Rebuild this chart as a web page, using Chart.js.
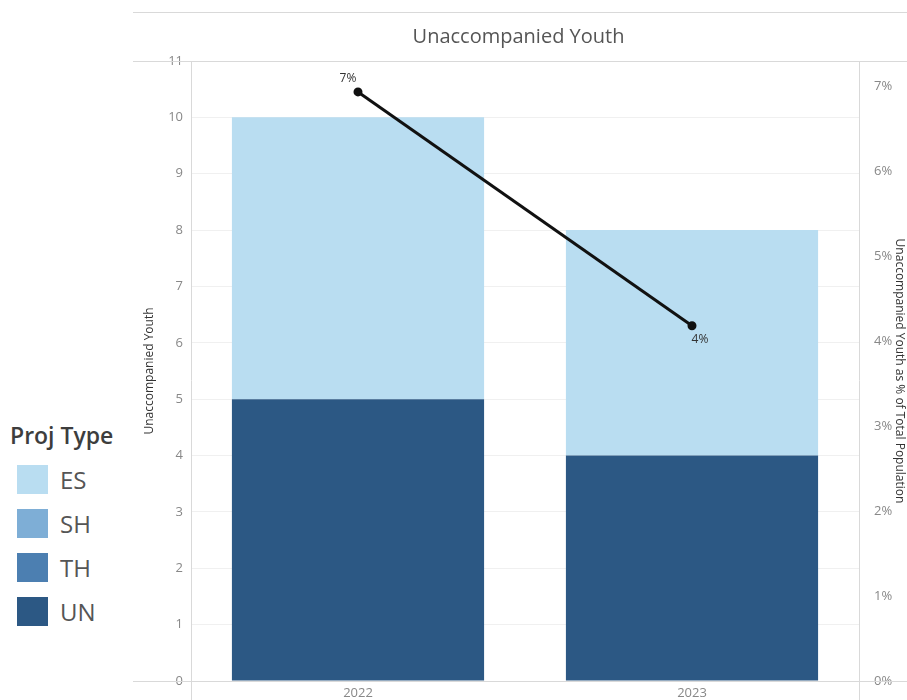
<!DOCTYPE html>
<html>
<head>
<meta charset="utf-8">
<script src="https://cdn.jsdelivr.net/npm/chart.js@4/dist/chart.umd.min.js"></script>
<style>
  body { margin: 0; background: #fff; font-family: 'Open Sans', sans-serif; }
  #wrap { position: absolute; left: 130px; top: 0; width: 777px; height: 700px; }
  #legend { position: absolute; left: 10px; top: 420px; }
  #legend .ttl { font-size: 23px; font-weight: 600; color: #3d3d3d; margin-bottom: 7px; line-height: 30px; }
  #legend .item { display: flex; align-items: center; height: 44px; margin-left: 7px; }
  #legend .sw { width: 31px; height: 29px; margin-right: 12px; }
  #legend .lbl { font-size: 24px; color: #555; }
</style>
</head>
<body>
<div id="legend"></div>
<div id="wrap"><canvas id="c"></canvas></div>
<script>
const years = ['2022', '2023'];
const projTypes = ['ES', 'SH', 'TH', 'UN'];
const esVals = [5, 4];
const shVals = [0, 0];
const thVals = [0, 0];
const unVals = [5, 4];
const pctVals = [6.93, 4.18];
const pctLabels = ['7%', '4%'];
const colors = { ES: '#b9ddf1', SH: '#7eaed6', TH: '#4c7fb1', UN: '#2c5884' };

// legend on the left
const leg = document.getElementById('legend');
leg.innerHTML = '<div class="ttl">Proj Type</div>' + projTypes.map(p =>
  `<div class="item"><div class="sw" style="background:${colors[p]}"></div><span class="lbl">${p}</span></div>`).join('');

const frame = {
  id: 'frame',
  afterDraw(chart) {
    const { ctx, chartArea: a, width, height } = chart;
    ctx.save();
    ctx.strokeStyle = '#d9d9d9';
    ctx.lineWidth = 1;
    ctx.beginPath();
    ctx.moveTo(3, 12.5); ctx.lineTo(width, 12.5);
    ctx.moveTo(3, a.top + 0.5); ctx.lineTo(width, a.top + 0.5);
    ctx.moveTo(3, a.bottom + 0.5); ctx.lineTo(width, a.bottom + 0.5);
    ctx.moveTo(a.left + 0.5, a.top); ctx.lineTo(a.left + 0.5, height);
    ctx.moveTo(a.right + 0.5, a.top); ctx.lineTo(a.right + 0.5, height);
    ctx.stroke();
    // point labels of the % line
    const meta = chart.getDatasetMeta(4);
    ctx.fillStyle = '#333';
    ctx.font = '12px "Open Sans"';
    ctx.textAlign = 'center';
    ctx.textBaseline = 'middle';
    meta.data.forEach((pt, i) => {
      const dy = i === 0 ? -13 : 14;
      const dx = i === 0 ? -10 : 8;
      ctx.fillText(pctLabels[i], pt.x + dx, pt.y + dy);
    });
    ctx.restore();
  }
};

const barDs = (name, data) => ({
  label: name, data, backgroundColor: colors[name], yAxisID: 'y',
  stack: 'a', order: 1, barPercentage: 0.755, categoryPercentage: 1
});

const tickFont = { family: 'Open Sans', size: 13 };
const axTitleFont = { family: 'Open Sans', size: 12, weight: 'normal' };

new Chart(document.getElementById('c'), {
  type: 'bar',
  data: {
    labels: years,
    datasets: [
      barDs('UN', unVals), barDs('TH', thVals), barDs('SH', shVals), barDs('ES', esVals),
      { type: 'line', label: '%', data: pctVals, yAxisID: 'y2', stack: 'b', order: 0,
        borderColor: '#111', backgroundColor: '#111', borderWidth: 3,
        pointRadius: 3, pointBackgroundColor: '#111' }
    ]
  },
  options: {
    responsive: true, maintainAspectRatio: false, animation: false,
    layout: { padding: 0 },
    plugins: {
      legend: { display: false },
      tooltip: { enabled: false },
      title: { display: true, text: 'Unaccompanied Youth', color: '#555',
        font: { family: 'Open Sans', size: 20, weight: 'normal', lineHeight: 1.2 },
        padding: { top: 25, bottom: 12 } }
    },
    scales: {
      x: { stacked: true, grid: { display: false }, border: { display: false },
        ticks: { color: '#888', font: tickFont, padding: -4 },
        afterFit: s => { s.height = 19; } },
      y: { position: 'left', stacked: true, min: 0, max: 11,
        grid: { color: '#f0f0f0', drawTicks: false }, border: { display: false },
        ticks: { stepSize: 1, color: '#888', font: tickFont, padding: 8 },
        title: { display: true, text: 'Unaccompanied Youth', color: '#333',
          font: axTitleFont, padding: { top: 12 } },
        afterFit: s => { s.width = 61; } },
      y2: { position: 'right', min: 0, max: 7.294,
        grid: { display: false, drawOnChartArea: false }, border: { display: false },
        ticks: { stepSize: 1, includeBounds: false, color: '#888', font: tickFont,
          padding: 7, callback: v => v + '%' },
        title: { display: true, text: 'Unaccompanied Youth as % of Total Population', color: '#333',
          font: axTitleFont, padding: { top: 0 } },
        afterFit: s => { s.width = 48; } }
    }
  },
  plugins: [frame]
});
</script>
</body>
</html>
